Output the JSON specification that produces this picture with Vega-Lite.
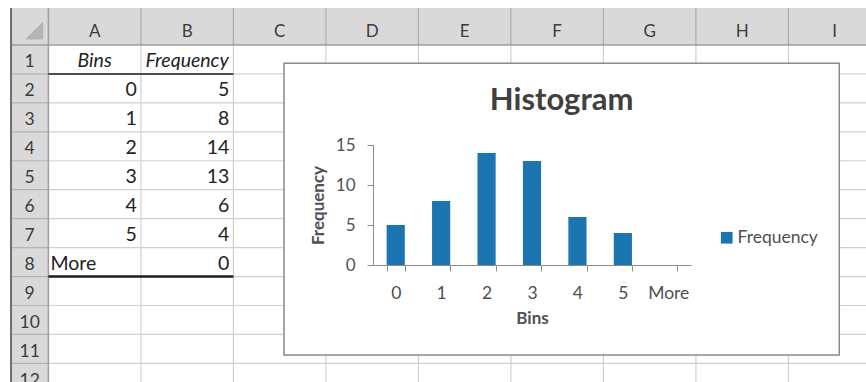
{
  "$schema": "https://vega.github.io/schema/vega-lite/v6.json",
  "width": 318,
  "height": 120,
  "autosize": {"type": "none"},
  "padding": {"left": 373, "top": 145, "right": 175, "bottom": 117},
  "background": "white",
  "config": {"font": "Lato", "view": {"stroke": null}},
  "datasets": {
    "bins": [
      {"bin": "0", "frequency": 5, "row": 2},
      {"bin": "1", "frequency": 8, "row": 3},
      {"bin": "2", "frequency": 14, "row": 4},
      {"bin": "3", "frequency": 13, "row": 5},
      {"bin": "4", "frequency": 6, "row": 6},
      {"bin": "5", "frequency": 4, "row": 7},
      {"bin": "More", "frequency": 0, "row": 8}
    ],
    "headings": [
      {"label": "Bins", "column": 1},
      {"label": "Frequency", "column": 2}
    ],
    "columns": [
      {"letter": "A", "number": 1},
      {"letter": "B", "number": 2},
      {"letter": "C", "number": 3},
      {"letter": "D", "number": 4},
      {"letter": "E", "number": 5},
      {"letter": "F", "number": 6},
      {"letter": "G", "number": 7},
      {"letter": "H", "number": 8},
      {"letter": "I", "number": 9}
    ],
    "rows": [
      {"number": 1}, {"number": 2}, {"number": 3}, {"number": 4},
      {"number": 5}, {"number": 6}, {"number": 7}, {"number": 8},
      {"number": 9}, {"number": 10}, {"number": 11}, {"number": 12}
    ]
  },
  "layer": [
    {
      "description": "Worksheet grid in column/row units: column n spans [n-1, n], row r spans [r-1, r].",
      "layer": [
        {
          "data": {"values": [{}]},
          "mark": {"type": "rect", "fill": "#d9d9d9"},
          "encoding": {
            "x": {"datum": -0.404, "type": "quantitative", "scale": {"domain": [0, 9], "range": [-324.6, 507.9], "nice": false, "zero": false}, "axis": null},
            "x2": {"datum": 9.5},
            "y": {"datum": -1.28, "type": "quantitative", "scale": {"domain": [0, 12], "range": [-100, 247.3], "nice": false, "zero": false}, "axis": null},
            "y2": {"datum": 0}
          }
        },
        {
          "data": {"values": [{}]},
          "mark": {"type": "rect", "fill": "#d9d9d9"},
          "encoding": {
            "x": {"datum": -0.404, "type": "quantitative", "scale": {"domain": [0, 9], "range": [-324.6, 507.9], "nice": false, "zero": false}, "axis": null},
            "x2": {"datum": 0},
            "y": {"datum": 0, "type": "quantitative", "scale": {"domain": [0, 12], "range": [-100, 247.3], "nice": false, "zero": false}, "axis": null},
            "y2": {"datum": 12.5}
          }
        },
        {
          "data": {"name": "columns"},
          "mark": {"type": "rule", "color": "#d0d0d0", "strokeWidth": 1.2},
          "encoding": {
            "x": {"field": "number", "type": "quantitative", "scale": {"domain": [0, 9], "range": [-324.6, 507.9], "nice": false, "zero": false}, "axis": null},
            "y": {"datum": 0, "type": "quantitative", "scale": {"domain": [0, 12], "range": [-100, 247.3], "nice": false, "zero": false}, "axis": null},
            "y2": {"datum": 12.5}
          }
        },
        {
          "data": {"name": "columns"},
          "mark": {"type": "rule", "color": "#ababab", "strokeWidth": 1.2},
          "encoding": {
            "x": {"field": "number", "type": "quantitative", "scale": {"domain": [0, 9], "range": [-324.6, 507.9], "nice": false, "zero": false}, "axis": null},
            "y": {"datum": -1.28, "type": "quantitative", "scale": {"domain": [0, 12], "range": [-100, 247.3], "nice": false, "zero": false}, "axis": null},
            "y2": {"datum": 0}
          }
        },
        {
          "data": {"name": "rows"},
          "mark": {"type": "rule", "color": "#d0d0d0", "strokeWidth": 1.2},
          "encoding": {
            "x": {"datum": 0, "type": "quantitative", "scale": {"domain": [0, 9], "range": [-324.6, 507.9], "nice": false, "zero": false}, "axis": null},
            "x2": {"datum": 9.5},
            "y": {"field": "number", "type": "quantitative", "scale": {"domain": [0, 12], "range": [-100, 247.3], "nice": false, "zero": false}, "axis": null}
          }
        },
        {
          "data": {"name": "rows"},
          "mark": {"type": "rule", "color": "#b3b3b3", "strokeWidth": 1.2},
          "encoding": {
            "x": {"datum": -0.404, "type": "quantitative", "scale": {"domain": [0, 9], "range": [-324.6, 507.9], "nice": false, "zero": false}, "axis": null},
            "x2": {"datum": 0},
            "y": {"field": "number", "type": "quantitative", "scale": {"domain": [0, 12], "range": [-100, 247.3], "nice": false, "zero": false}, "axis": null}
          }
        },
        {
          "data": {"values": [{}]},
          "mark": {"type": "rule", "color": "#9e9e9e", "strokeWidth": 1.5},
          "encoding": {
            "x": {"datum": -0.404, "type": "quantitative", "scale": {"domain": [0, 9], "range": [-324.6, 507.9], "nice": false, "zero": false}, "axis": null},
            "x2": {"datum": 9.5},
            "y": {"datum": 0, "type": "quantitative", "scale": {"domain": [0, 12], "range": [-100, 247.3], "nice": false, "zero": false}, "axis": null}
          }
        },
        {
          "data": {"values": [{}]},
          "mark": {"type": "rule", "color": "#9e9e9e", "strokeWidth": 1.5},
          "encoding": {
            "x": {"datum": 0, "type": "quantitative", "scale": {"domain": [0, 9], "range": [-324.6, 507.9], "nice": false, "zero": false}, "axis": null},
            "y": {"datum": -1.28, "type": "quantitative", "scale": {"domain": [0, 12], "range": [-100, 247.3], "nice": false, "zero": false}, "axis": null},
            "y2": {"datum": 12.5}
          }
        },
        {
          "data": {"values": [{}]},
          "mark": {"type": "rule", "color": "#6e6e6e", "strokeWidth": 2},
          "encoding": {
            "x": {"datum": -0.404, "type": "quantitative", "scale": {"domain": [0, 9], "range": [-324.6, 507.9], "nice": false, "zero": false}, "axis": null},
            "y": {"datum": -1.28, "type": "quantitative", "scale": {"domain": [0, 12], "range": [-100, 247.3], "nice": false, "zero": false}, "axis": null},
            "y2": {"datum": 12.5}
          }
        },
        {
          "data": {"values": [{}]},
          "mark": {"type": "point", "shape": "M1,-1L1,1L-1,1Z", "filled": true, "color": "#b4b4b4", "size": 324, "opacity": 1},
          "encoding": {
            "x": {"datum": -0.1535, "type": "quantitative", "scale": {"domain": [0, 9], "range": [-324.6, 507.9], "nice": false, "zero": false}, "axis": null},
            "y": {"datum": -0.501, "type": "quantitative", "scale": {"domain": [0, 12], "range": [-100, 247.3], "nice": false, "zero": false}, "axis": null}
          }
        },
        {
          "data": {"name": "columns"},
          "mark": {"type": "text", "align": "center", "baseline": "alphabetic", "dx": -46.25, "dy": -8.3, "fontSize": 17, "color": "#3c3c3c"},
          "encoding": {
            "x": {"field": "number", "type": "quantitative", "scale": {"domain": [0, 9], "range": [-324.6, 507.9], "nice": false, "zero": false}, "axis": null},
            "y": {"datum": 0, "type": "quantitative", "scale": {"domain": [0, 12], "range": [-100, 247.3], "nice": false, "zero": false}, "axis": null},
            "text": {"field": "letter"}
          }
        },
        {
          "data": {"name": "rows"},
          "mark": {"type": "text", "align": "center", "baseline": "alphabetic", "dx": -18.7, "dy": -6.5, "fontSize": 17.5, "color": "#3c3c3c"},
          "encoding": {
            "x": {"datum": 0, "type": "quantitative", "scale": {"domain": [0, 9], "range": [-324.6, 507.9], "nice": false, "zero": false}, "axis": null},
            "y": {"field": "number", "type": "quantitative", "scale": {"domain": [0, 12], "range": [-100, 247.3], "nice": false, "zero": false}, "axis": null},
            "text": {"field": "number"}
          }
        },
        {
          "data": {"name": "headings"},
          "mark": {"type": "text", "align": "center", "baseline": "alphabetic", "dx": -46.25, "dy": -6.5, "fontSize": 19.5, "fontStyle": "italic", "color": "#222222"},
          "encoding": {
            "x": {"field": "column", "type": "quantitative", "scale": {"domain": [0, 9], "range": [-324.6, 507.9], "nice": false, "zero": false}, "axis": null},
            "y": {"datum": 1, "type": "quantitative", "scale": {"domain": [0, 12], "range": [-100, 247.3], "nice": false, "zero": false}, "axis": null},
            "text": {"field": "label"}
          }
        },
        {
          "data": {"name": "bins"},
          "transform": [{"filter": "datum.bin !== 'More'"}],
          "mark": {"type": "text", "align": "right", "baseline": "alphabetic", "dx": -4, "dy": -6.5, "fontSize": 19.5, "color": "#222222"},
          "encoding": {
            "x": {"datum": 1, "type": "quantitative", "scale": {"domain": [0, 9], "range": [-324.6, 507.9], "nice": false, "zero": false}, "axis": null},
            "y": {"field": "row", "type": "quantitative", "scale": {"domain": [0, 12], "range": [-100, 247.3], "nice": false, "zero": false}, "axis": null},
            "text": {"field": "bin"}
          }
        },
        {
          "data": {"name": "bins"},
          "transform": [{"filter": "datum.bin === 'More'"}],
          "mark": {"type": "text", "align": "left", "baseline": "alphabetic", "dx": 2, "dy": -6.5, "fontSize": 19.5, "color": "#222222"},
          "encoding": {
            "x": {"datum": 0, "type": "quantitative", "scale": {"domain": [0, 9], "range": [-324.6, 507.9], "nice": false, "zero": false}, "axis": null},
            "y": {"field": "row", "type": "quantitative", "scale": {"domain": [0, 12], "range": [-100, 247.3], "nice": false, "zero": false}, "axis": null},
            "text": {"field": "bin"}
          }
        },
        {
          "data": {"name": "bins"},
          "mark": {"type": "text", "align": "right", "baseline": "alphabetic", "dx": -4, "dy": -6.5, "fontSize": 19.5, "color": "#222222"},
          "encoding": {
            "x": {"datum": 2, "type": "quantitative", "scale": {"domain": [0, 9], "range": [-324.6, 507.9], "nice": false, "zero": false}, "axis": null},
            "y": {"field": "row", "type": "quantitative", "scale": {"domain": [0, 12], "range": [-100, 247.3], "nice": false, "zero": false}, "axis": null},
            "text": {"field": "frequency"}
          }
        },
        {
          "data": {"values": [{}]},
          "mark": {"type": "rule", "color": "#4d4d4d", "strokeWidth": 2},
          "encoding": {
            "x": {"datum": 0, "type": "quantitative", "scale": {"domain": [0, 9], "range": [-324.6, 507.9], "nice": false, "zero": false}, "axis": null},
            "x2": {"datum": 2},
            "y": {"datum": 1, "type": "quantitative", "scale": {"domain": [0, 12], "range": [-100, 247.3], "nice": false, "zero": false}, "axis": null}
          }
        },
        {
          "data": {"values": [{}]},
          "mark": {"type": "rule", "color": "#1e1e1e", "strokeWidth": 2.5},
          "encoding": {
            "x": {"datum": 0, "type": "quantitative", "scale": {"domain": [0, 9], "range": [-324.6, 507.9], "nice": false, "zero": false}, "axis": null},
            "x2": {"datum": 2},
            "y": {"datum": 8, "type": "quantitative", "scale": {"domain": [0, 12], "range": [-100, 247.3], "nice": false, "zero": false}, "axis": null}
          }
        },
        {
          "data": {"values": [{}]},
          "mark": {"type": "rect", "fill": "white", "stroke": "#8a8a8a", "strokeWidth": 1.5},
          "encoding": {
            "x": {"datum": 2.547, "type": "quantitative", "scale": {"domain": [0, 9], "range": [-324.6, 507.9], "nice": false, "zero": false}, "axis": null},
            "x2": {"datum": 8.55},
            "y": {"datum": 0.632, "type": "quantitative", "scale": {"domain": [0, 12], "range": [-100, 247.3], "nice": false, "zero": false}, "axis": null},
            "y2": {"datum": 10.712}
          }
        },
        {
          "data": {"values": [{"title": "Histogram"}]},
          "mark": {"type": "text", "align": "center", "baseline": "alphabetic", "fontSize": 31, "fontWeight": "bold", "color": "#404040"},
          "encoding": {
            "x": {"datum": 5.549, "type": "quantitative", "scale": {"domain": [0, 9], "range": [-324.6, 507.9], "nice": false, "zero": false}, "axis": null},
            "y": {"datum": 2.246, "type": "quantitative", "scale": {"domain": [0, 12], "range": [-100, 247.3], "nice": false, "zero": false}, "axis": null},
            "text": {"field": "title"}
          }
        }
      ]
    },
    {
      "data": {"name": "bins"},
      "mark": {"type": "bar"},
      "encoding": {
        "x": {
          "field": "bin",
          "type": "nominal",
          "sort": null,
          "scale": {"paddingInner": 0.6, "paddingOuter": 0.3},
          "axis": {
            "title": "Bins",
            "labelAngle": 0,
            "tickBand": "extent",
            "grid": false,
            "domainColor": "#8a8a8a",
            "tickColor": "#8a8a8a",
            "tickSize": 6,
            "labelPadding": 13,
            "labelFontSize": 17.5,
            "labelColor": "#505050",
            "titleFontSize": 17,
            "titleFontWeight": "bold",
            "titleColor": "#505050",
            "titlePadding": 9,
            "zindex": 1
          }
        },
        "y": {
          "field": "frequency",
          "type": "quantitative",
          "scale": {"domain": [0, 15], "nice": false},
          "axis": {
            "title": "Frequency",
            "values": [0, 5, 10, 15],
            "grid": false,
            "domainColor": "#8a8a8a",
            "tickColor": "#8a8a8a",
            "tickSize": 6,
            "labelPadding": 12,
            "labelFontSize": 17,
            "labelColor": "#505050",
            "titleFontSize": 17,
            "titleFontWeight": "bold",
            "titleColor": "#505050",
            "titlePadding": 8,
            "zindex": 1
          }
        },
        "color": {
          "datum": "Frequency",
          "type": "nominal",
          "scale": {"range": ["#1b75b0"]},
          "legend": {
            "orient": "none",
            "legendX": 345,
            "legendY": 84,
            "title": null,
            "padding": 0,
            "symbolType": "square",
            "symbolSize": 137,
            "symbolStrokeWidth": 0,
            "labelOffset": 2,
            "labelFontSize": 17.5,
            "labelColor": "#505050"
          }
        }
      }
    }
  ],
  "resolve": {"scale": {"x": "independent", "y": "independent"}}
}
